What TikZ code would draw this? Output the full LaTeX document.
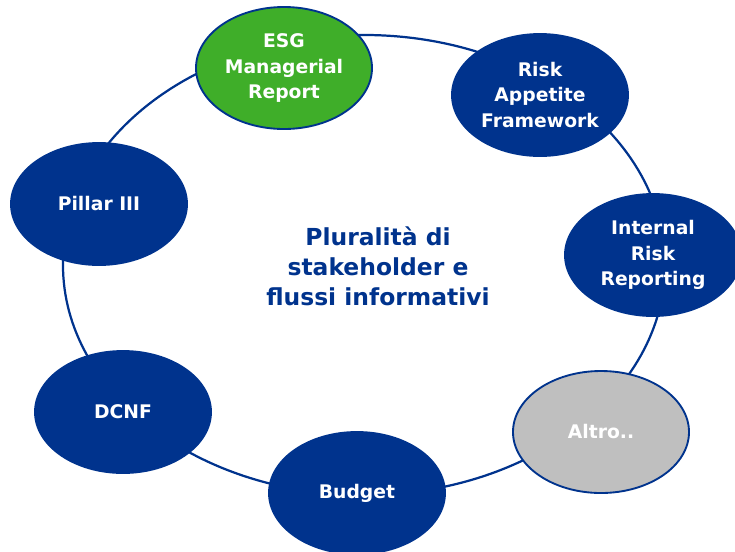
\documentclass[tikz,border=0pt]{standalone}
\usepackage{fontspec}
\setmainfont{DejaVu Sans}
\usetikzlibrary{shapes.geometric}
\definecolor{flowblue}{RGB}{0,51,141}
\definecolor{flowgreen}{RGB}{63,174,41}
\definecolor{flowgray}{RGB}{191,191,191}

\begin{document}
\begin{tikzpicture}[x=0.03cm, y=-0.03cm,
    ring/.style={draw=flowblue, line width=1.9pt},
    source/.style={ellipse, draw=flowblue, line width=1.6pt, fill=flowblue,
        text=white, inner sep=0pt, minimum width=5.28cm, minimum height=3.66cm,
        align=center, font=\fontsize{16}{22}\selectfont\bfseries}]
    \useasboundingbox (0,0) rectangle (735,551);

    % Ring
    \coordinate (hub) at (364,265);
    \draw[ring] (hub) ellipse (9.03cm and 6.9cm);

    % Sources
    \node[source, fill=flowgreen] (esg) at (284,68) {ESG\\Managerial\\Report};
    \node[source] (raf) at (540,95) {Risk\\Appetite\\Framework};
    \node[source] (irr) at (653,255) {Internal\\Risk\\Reporting};
    \node[source, fill=flowgray] (altro) at (601,432) {Altro..};
    \node[source] (budget) at (357,493) {Budget};
    \node[source] (dcnf) at (123,412) {DCNF};
    \node[source] (pillar) at (99,204) {Pillar III};

    % Title
    \node[text=flowblue, align=center, font=\fontsize{20}{25.6}\selectfont\bfseries]
        (title) at (378,266) {Pluralità di\\stakeholder e\\flussi informativi};
\end{tikzpicture}
\end{document}
